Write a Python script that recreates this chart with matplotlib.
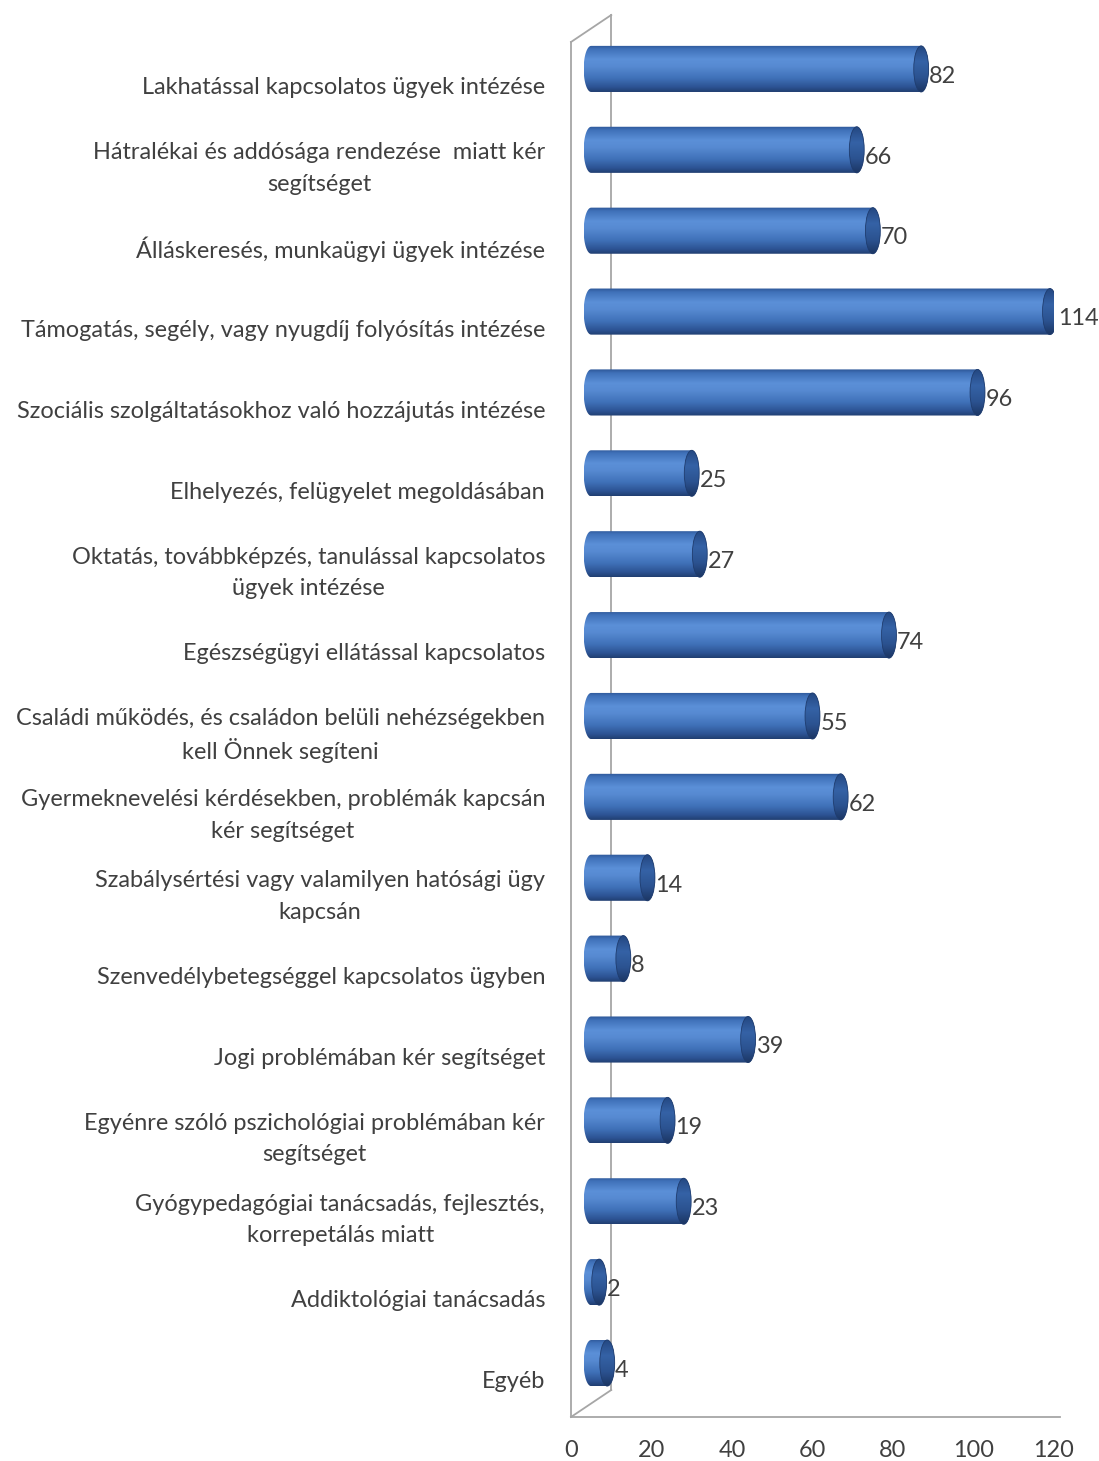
import numpy as np
import matplotlib.pyplot as plt
from matplotlib.patches import Ellipse, PathPatch
from matplotlib.path import Path
from matplotlib.colors import LinearSegmentedColormap

categories = [
    "Lakhatással kapcsolatos ügyek intézése",
    "Hátralékai és addósága rendezése  miatt kér\nsegítséget",
    "Álláskeresés, munkaügyi ügyek intézése",
    "Támogatás, segély, vagy nyugdíj folyósítás intézése",
    "Szociális szolgáltatásokhoz való hozzájutás intézése",
    "Elhelyezés, felügyelet megoldásában",
    "Oktatás, továbbképzés, tanulással kapcsolatos\nügyek intézése",
    "Egészségügyi ellátással kapcsolatos",
    "Családi működés, és családon belüli nehézségekben\nkell Önnek segíteni",
    "Gyermeknevelési kérdésekben, problémák kapcsán\nkér segítséget",
    "Szabálysértési vagy valamilyen hatósági ügy\nkapcsán",
    "Szenvedélybetegséggel kapcsolatos ügyben",
    "Jogi problémában kér segítséget",
    "Egyénre szóló pszichológiai problémában kér\nsegítséget",
    "Gyógypedagógiai tanácsadás, fejlesztés,\nkorrepetálás miatt",
    "Addiktológiai tanácsadás",
    "Egyéb",
]
values = [82, 66, 70, 114, 96, 25, 27, 74, 55, 62, 14, 8, 39, 19, 23, 2, 4]
xticks = [0, 20, 40, 60, 80, 100, 120]

plt.rcParams['font.family'] = ['Lato', 'DejaVu Sans']

W, H = 1099, 1461
fig = plt.figure(figsize=(W / 100, H / 100), dpi=100, facecolor="white")
ax = fig.add_axes([571 / W, 1 - 1417 / H, (1054 - 571) / W, (1417 - 42) / H])
ax.set_xlim(0, 120)
ax.set_ylim(16.5, -0.5)
ax.axis("off")
renderer = fig.canvas.get_renderer()

text_col = "#404040"
wall_col = "#a6a6a6"

# pick label size so the widest label is ~530 px like the original
probe = fig.text(0, 0, categories[4], fontsize=10)
fs = 10 * 530 / probe.get_window_extent(renderer).width
probe.remove()

# 3d depth (data units)
DX, DY = 10.0, 0.334

# wall and floor
lw = 1.3
ax.plot([0, 0], [-0.5, 16.5], color=wall_col, lw=lw, clip_on=False, zorder=1)
ax.plot([DX, DX], [-0.5 - DY, 16.5 - DY], color=wall_col, lw=lw, clip_on=False, zorder=1)
ax.plot([0, DX], [-0.5, -0.5 - DY], color=wall_col, lw=lw, clip_on=False, zorder=1)
ax.plot([0, DX], [16.5, 16.5 - DY], color=wall_col, lw=lw, clip_on=False, zorder=1)
ax.plot([0, 121.5], [16.5, 16.5], color=wall_col, lw=lw, clip_on=False, zorder=1)

body_cmap = LinearSegmentedColormap.from_list("body", [
    (0.0, "#2c5596"), (0.08, "#3f70b8"), (0.3, "#5b90d8"), (0.45, "#578ad2"),
    (0.7, "#4072b9"), (0.9, "#2c5292"), (1.0, "#203e70")])
cap_cmap = LinearSegmentedColormap.from_list("cap", [
    (0.0, "#23467f"), (0.35, "#3562a6"), (0.7, "#2b5290"), (1.0, "#1c3663")])
grad = np.linspace(0, 1, 256).reshape(-1, 1)

bh = 0.57      # bar thickness
ew = 3.7       # ellipse width
ox, oy = DX / 2, DY / 2
line_gap = 0.39
label_x = ax.transData.inverted().transform((545, 0))[0]

for i, (cat, v) in enumerate(zip(categories, values)):
    yc = i - oy
    x0, x1 = ox, ox + v
    top, bot = yc - bh / 2, yc + bh / 2
    t1 = np.linspace(np.pi / 2, 3 * np.pi / 2, 40)
    left = np.column_stack([x0 + ew / 2 * np.cos(t1), yc - bh / 2 * np.sin(t1)])
    t2 = np.linspace(-np.pi / 2, np.pi / 2, 40)
    right = np.column_stack([x1 + ew / 2 * np.cos(t2), yc - bh / 2 * np.sin(t2)])
    patch = PathPatch(Path(np.vstack([left, right, left[:1]])),
                      facecolor="none", edgecolor="none")
    ax.add_patch(patch)
    im = ax.imshow(grad, cmap=body_cmap, aspect="auto",
                   extent=(x0 - ew / 2, x1 + ew / 2, bot, top),
                   zorder=3, interpolation="bilinear")
    im.set_clip_path(patch)
    # right cap
    cap = Ellipse((x1, yc), ew, bh, facecolor="none", edgecolor="none")
    ax.add_patch(cap)
    imc = ax.imshow(grad, cmap=cap_cmap, aspect="auto",
                    extent=(x1 - ew / 2, x1 + ew / 2, bot, top),
                    zorder=4, interpolation="bilinear")
    imc.set_clip_path(cap)
    ax.add_patch(Ellipse((x1, yc), ew, bh, facecolor="none",
                         edgecolor="#1f3c6e", lw=0.6, zorder=5))

    ax.text(x1 + ew / 2 + 0.1, yc + 0.09, str(v), ha="left", va="center",
            fontsize=fs, color=text_col, zorder=6)

    # category label: lines centred on each other, block right-aligned
    lines = cat.split("\n")
    widths = []
    for ln in lines:
        t = ax.text(0, 0, ln, fontsize=fs)
        widths.append(t.get_window_extent(renderer).width)
        t.remove()
    cx_px = ax.transData.transform((label_x, 0))[0] - max(widths) / 2
    cx = ax.transData.inverted().transform((cx_px, 0))[0]
    n = len(lines)
    for k, ln in enumerate(lines):
        yy = i + 0.04 + (k - (n - 1) / 2) * line_gap
        ax.text(cx, yy, ln, ha="center", va="center_baseline",
                fontsize=fs, color=text_col)

for t in xticks:
    ax.text(t, 16.5 + 0.41, str(t), ha="center", va="center",
            fontsize=fs, color=text_col)

ax.set_xlim(0, 120)
ax.set_ylim(16.5, -0.5)

fig.savefig("out.png", dpi=100, facecolor="white")
